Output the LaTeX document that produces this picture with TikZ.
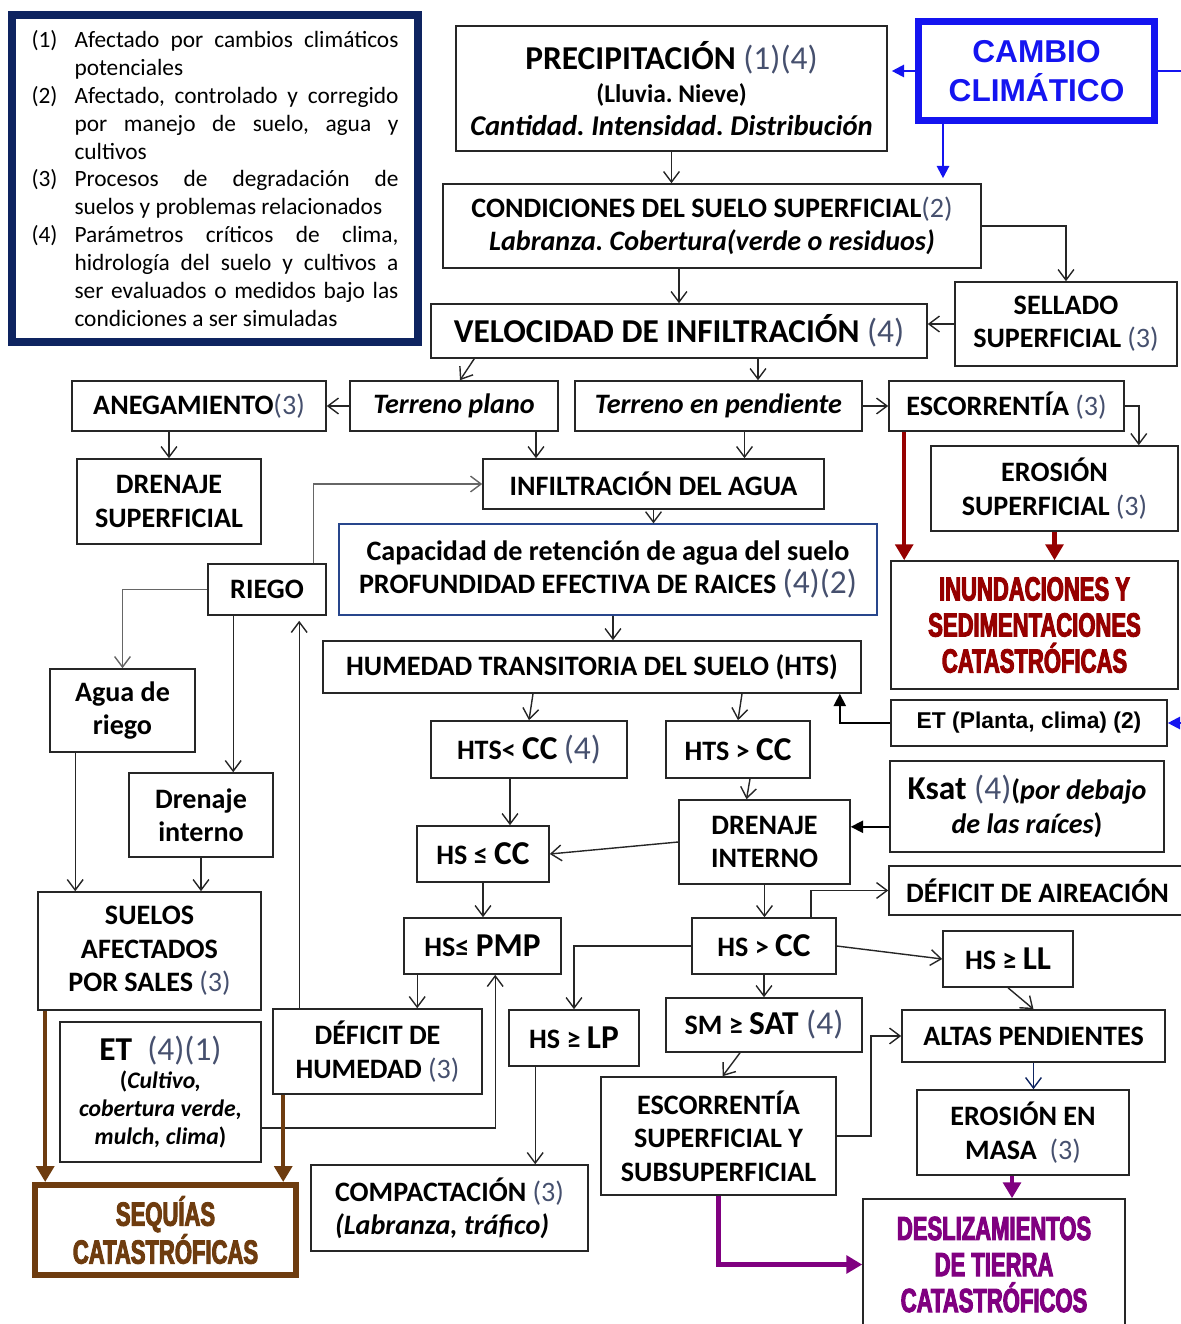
\documentclass[tikz,border=0pt]{standalone}
\usepackage{fontspec}
\setmainfont{Carlito}
\newfontfamily\arialf{Liberation Sans}
\newfontfamily\heavyf[FakeStretch=0.66,BoldFeatures={FakeBold=3}]{Liberation Sans}
\usetikzlibrary{positioning,arrows.meta,calc}

\definecolor{numc}{RGB}{70,80,110}
\definecolor{azulcc}{RGB}{20,20,240}
\definecolor{marino}{RGB}{14,36,96}
\definecolor{rojoinu}{RGB}{150,0,0}
\definecolor{cafe}{RGB}{110,60,15}
\definecolor{morado}{RGB}{128,0,128}
\definecolor{bordecap}{RGB}{40,70,140}

\newcommand{\refn}[1]{{\mdseries\color{numc}(#1)}}
\newcommand{\grande}{\fontsize{19}{22}\selectfont}
\newcommand{\itemley}[2]{\hangindent=0.86cm\hangafter=1\noindent\makebox[0.86cm][l]{(#1)}#2\par}
\frenchspacing

\begin{document}
\begin{tikzpicture}[x=0.02cm, y=-0.02cm,
  caja/.style={draw=black!85, line width=0.9pt, inner sep=0pt, align=center, text=black,
    font=\fontsize{16}{19}\selectfont\bfseries},
  tam/.style 2 args={minimum width=#1*0.02cm, minimum height=#2*0.02cm},
  flecha/.style={draw=black!85, line width=0.8pt, -{Straight Barb[length=6pt,width=9pt]}},
  gris/.style={draw=black!60},
  llena/.style={draw=black, line width=0.9pt, -{Triangle[length=7pt,width=7pt]}},
  azul/.style={draw=azulcc, line width=1.2pt, -{Triangle[length=7pt,width=7pt]}},
  gruesa/.style={line width=2.4pt, -{Triangle[length=9pt,width=10pt]}},
  fuerte/.style={font=\fontsize{19}{20.5}\selectfont\heavyf\bfseries},
]
\useasboundingbox (0,0) rectangle (1180,1324);

% Leyenda
\node[draw=marino, line width=0.16cm, tam={406}{327}, inner xsep=0.39cm, inner ysep=0pt,
  text width=7.34cm, align=justify, font=\fontsize{13.3}{15.9}\selectfont] (leyenda) at (215,178.5) {%
  \hyphenpenalty=10000\exhyphenpenalty=10000
  \itemley{1}{Afectado por cambios climáticos potenciales}
  \itemley{2}{Afectado, controlado y corregido por manejo de suelo, agua y cultivos}
  \itemley{3}{Procesos de degradación de\linebreak suelos y problemas relacionados}
  \itemley{4}{Parámetros críticos de clima, hidrología del suelo y cultivos a ser evaluados o medidos bajo las condiciones a ser simuladas}};

% Nodos
\node[caja, tam={431}{125}] (prec) at (671.5,88.5) {{\grande PRECIPITACIÓN \refn{1}\refn{4}}\\[0pt]
  {\fontsize{14.5}{17}\selectfont (Lluvia. Nieve)}\\[0pt] {\fontsize{16.3}{19}\selectfont\textit{Cantidad. Intensidad. Distribución}}};
\node[draw=azulcc, line width=0.14cm, tam={236}{99}, align=center, text=azulcc,
  font=\arialf\bfseries\fontsize{18}{22}\selectfont] (cambio) at (1036.5,71) {CAMBIO\\CLIMÁTICO};
\node[caja, tam={538}{84}] (cond) at (712,226) {CONDICIONES DEL SUELO SUPERFICIAL\refn{2}\\
  \textit{Labranza. Cobertura(verde o residuos)}};
\node[caja, tam={222}{84}] (sellado) at (1066,324) {SELLADO\\SUPERFICIAL \refn{3}};
\node[caja, tam={496}{54}] (veloc) at (679,331) {\grande VELOCIDAD DE INFILTRACIÓN \refn{4}};
\node[caja, tam={208}{50}] (tplano) at (454,406) {\textit{Terreno plano}};
\node[caja, tam={287}{50}] (tpend) at (718.5,406) {\textit{Terreno en pendiente}};
\node[caja, tam={254}{50}] (aneg) at (199,406) {ANEGAMIENTO\refn{3}};
\node[caja, tam={235}{50}] (escorr) at (1006.5,406) {ESCORRENTÍA \refn{3}};
\node[caja, tam={247}{85}] (erosup) at (1054.5,488.5) {EROSIÓN\\SUPERFICIAL \refn{3}};
\node[caja, tam={184}{85}] (drensup) at (169,501.5) {DRENAJE\\SUPERFICIAL};
\node[caja, tam={341}{50}] (infil) at (653.5,484) {INFILTRACIÓN DEL AGUA};
\node[caja, draw=bordecap, line width=0.7pt, tam={538}{91}] (capac) at (608,569.5)
  {Capacidad de retención de agua del suelo\\PROFUNDIDAD EFECTIVA DE RAICES {\grande\refn{4}\refn{2}}};
\node[caja, tam={118}{51}] (riego) at (267,589.5) {RIEGO};
\node[caja, tam={538}{52}] (humedad) at (592,667) {HUMEDAD TRANSITORIA DEL SUELO (HTS)};
\node[caja, tam={287}{128}, fuerte, text=rojoinu] (inund) at (1034.5,625)
  {INUNDACIONES Y\\SEDIMENTACIONES\\CATASTRÓFICAS};
\node[caja, tam={276}{46}, font=\arialf\bfseries\fontsize{13}{16}\selectfont] (etpc) at (1029,723)
  {ET (Planta, clima) (2)};
\node[caja, tam={145}{83}] (agua) at (122.5,710.5) {Agua de\\riego};
\node[caja, tam={196}{57}] (htsmenor) at (529,749.5) {HTS< {\grande CC} {\grande\refn{4}}};
\node[caja, tam={144}{57}] (htsmayor) at (738,749.5) {HTS > {\grande CC}};
\node[caja, tam={274}{91}] (ksat) at (1027,806.5)
  {{\grande Ksat \refn{4}}(\textit{por debajo}\\\textit{de las raíces})};
\node[caja, tam={144}{84}] (dreni) at (201,815) {Drenaje\\interno};
\node[caja, tam={171}{84}] (drenint) at (764.5,842) {DRENAJE\\INTERNO};
\node[caja, tam={132}{56}] (hscc) at (483,854) {HS ≤ {\grande CC}};
\node[caja, tam={297}{49}] (aire) at (1037.5,890.5) {DÉFICIT DE AIREACIÓN};
\node[caja, tam={223}{118}] (suelos) at (149.5,951) {SUELOS\\AFECTADOS\\POR SALES \refn{3}};
\node[caja, tam={157}{56}] (hspmp) at (482.5,946) {HS≤ {\grande PMP}};
\node[caja, tam={144}{56}] (hsmcc) at (764,946) {HS > {\grande CC}};
\node[caja, tam={130}{56}] (hsll) at (1008,959) {HS ≥ {\grande LL}};
\node[caja, tam={196}{54}] (sat) at (764,1025) {SM ≥ {\grande SAT \refn{4}}};
\node[caja, tam={209}{85}] (defhum) at (377.5,1051.5) {DÉFICIT DE\\HUMEDAD \refn{3}};
\node[caja, tam={130}{56}] (hslp) at (574,1038) {HS ≥ {\grande LP}};
\node[caja, tam={263}{52}] (altas) at (1033.5,1036) {ALTAS PENDIENTES};
\node[caja, tam={201}{140}, font=\fontsize{13.5}{16}\selectfont\bfseries] (etcult) at (160.5,1092)
  {{\grande ET\ \ \refn{4}\refn{1}}\\(\textit{Cultivo,}\\\textit{cobertura verde,}\\\textit{mulch, clima})};
\node[caja, tam={235}{118}] (escsup) at (718.5,1136) {ESCORRENTÍA\\SUPERFICIAL Y\\SUBSUPERFICIAL};
\node[caja, tam={212}{85}] (eromasa) at (1023,1132.5) {EROSIÓN EN\\MASA\ \ \refn{3}};
\node[caja, tam={277}{86}, align=left] (compac) at (449.5,1208)
  {COMPACTACIÓN \refn{3}\\\textit{(Labranza, tráfico)}};
\node[caja, draw=cafe, line width=0.12cm, tam={261}{90}, fuerte, text=cafe] (sequias) at (165.5,1230)
  {SEQUÍAS\\CATASTRÓFICAS};
\node[caja, tam={262}{131}, fuerte, text=morado] (desliz) at (994,1264.5)
  {DESLIZAMIENTOS\\DE TIERRA\\CATASTRÓFICOS};

% Flechas
\draw[azul, shorten >=0.08cm] (cambio.west) -- (cambio.west -| prec.east);
\draw[azul, shorten >=0.1cm] ($(cambio.south west)+(28,0)$) coordinate (c1) -- (c1 |- cond.north);
\draw[azul] (cambio.east) -| ($(etpc.east)+(30,0)$) -- (etpc.east);
\draw[flecha] (prec.south) -- (prec.south |- cond.north);
\draw[flecha] (cond.east) -| (sellado.north);
\draw[flecha] (veloc.north |- cond.south) -- (veloc.north);
\draw[flecha] (sellado.west) -- (sellado.west -| veloc.east);
\draw[flecha] ($(veloc.south west)+(44,0)$) -- ($(tplano.north)+(6,0)$);
\draw[flecha] ($(veloc.south)+(79,0)$) coordinate (v2) -- (v2 |- tpend.north);
\draw[flecha] (tplano.west) -- (aneg.east);
\draw[flecha] (tpend.east) -- (escorr.west);
\draw[flecha] (escorr.east) -| ($(erosup.north east)+(-40,0)$);
\draw[flecha] (drensup.north |- aneg.south) -- (drensup.north);
\draw[flecha] ($(tplano.south)+(82,0)$) coordinate (t1) -- (t1 |- infil.north);
\draw[flecha] ($(tpend.south)+(26,0)$) coordinate (t2) -- (t2 |- infil.north);
\draw[flecha] (infil.south) -- (infil.south |- capac.north);
\draw[flecha] ($(capac.south)+(5,0)$) coordinate (c2) -- (c2 |- humedad.north);
\draw[gruesa, rojoinu] ($(escorr.south west)+(16,0)$) coordinate (e1) -- (e1 |- inund.north);
\draw[gruesa, rojoinu] (erosup.south) -- (erosup.south |- inund.north);
\draw[llena] (etpc.west) -| ($(humedad.south east)+(-22,0)$);
\draw[flecha, gris] ($(riego.north east)+(-13,0)$) |- (infil.west);
\draw[flecha, gris] (riego.west) -| (agua.north);
\draw[flecha] ($(riego.south west)+(26,0)$) coordinate (r1) -- (r1 |- dreni.north);
\draw[flecha] ($(agua.south west)+(26,0)$) coordinate (a1) -- (a1 |- suelos.north);
\draw[flecha] (dreni.south) -- (dreni.south |- suelos.north);
\draw[flecha, shorten >=0.1cm] ($(defhum.north west)+(27,0)$) coordinate (d1) -- (d1 |- riego.south);
\draw[flecha] ($(humedad.south)+(-59,0)$) -- (htsmenor.north);
\draw[flecha] ($(humedad.south)+(150,0)$) -- (htsmayor.north);
\draw[flecha] ($(htsmenor.south)+(-19,0)$) coordinate (h1) -- (h1 |- hscc.north);
\draw[flecha] ($(htsmayor.south)+(12,0)$) -- ($(drenint.north)+(-18,0)$);
\draw[llena] ($(ksat.south west)+(0,-26)$) coordinate (k1) -- (k1 -| drenint.east);
\draw[flecha] (drenint.west) -- (hscc.east);
\draw[flecha] (hscc.south) -- (hscc.south |- hspmp.north);
\draw[flecha] (drenint.south) -- (drenint.south |- hsmcc.north);
\draw[flecha] ($(hsmcc.north east)+(-26,0)$) |- (aire.west);
\draw[flecha] (hsmcc.east) -- (hsll.west);
\draw[flecha] (hsmcc.west) -| (hslp.north);
\draw[flecha] (hsmcc.south) -- (hsmcc.south |- sat.north);
\draw[flecha] (hsll.south) -- (altas.north);
\draw[flecha] ($(hspmp.south west)+(14,0)$) coordinate (p1) -- (p1 |- defhum.north);
\draw[flecha] ($(etcult.south east)+(0,-35)$) -| ($(hspmp.south west)+(92,0)$);
\draw[flecha] ($(hslp.south west)+(27,0)$) coordinate (l1) -- (l1 |- compac.north);
\draw[flecha] ($(sat.south)+(-24,0)$) -- ($(escsup.north)+(4,0)$);
\draw[flecha] (escsup.east) -- ++(34,0) |- (altas.west);
\draw[flecha, draw=marino] (altas.south) -- (altas.south |- eromasa.north);
\draw[gruesa, morado] ($(eromasa.south)+(-11,0)$) coordinate (m1) -- (m1 |- desliz.north);
\draw[gruesa, morado] (escsup.south) |- (desliz.west);
\draw[gruesa, cafe] ($(suelos.south west)+(8,0)$) coordinate (s1) -- (s1 |- sequias.north);
\draw[gruesa, cafe] ($(defhum.south west)+(11,0)$) coordinate (s2) -- (s2 |- sequias.north);
\end{tikzpicture}
\end{document}
